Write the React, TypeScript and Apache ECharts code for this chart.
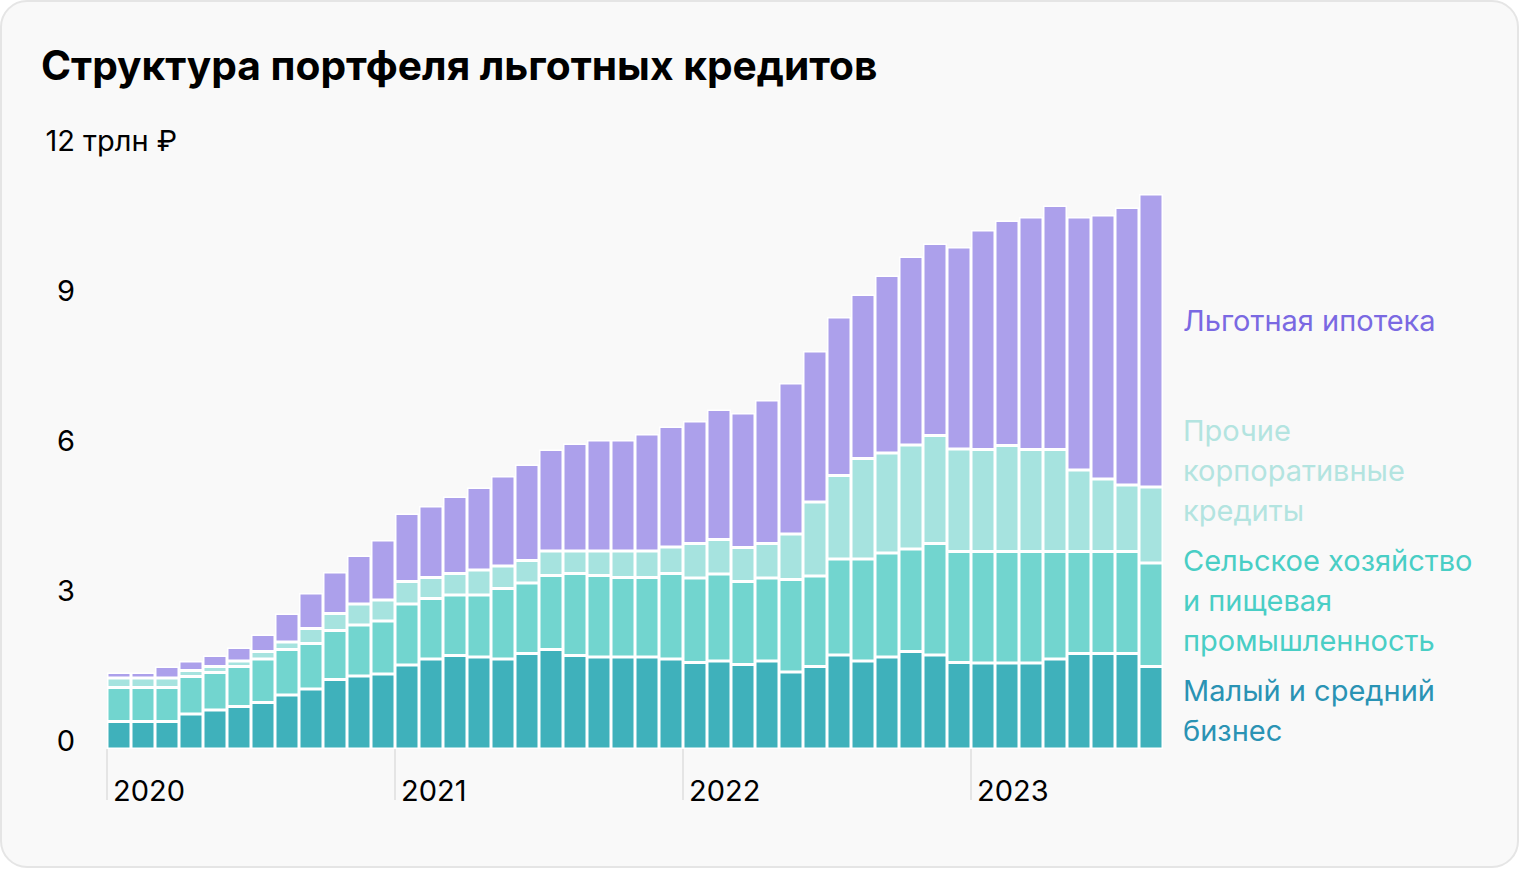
import React, { useEffect, useRef } from "react";
import * as echarts from "echarts";

const years = ["2020", "2021", "2022", "2023"];
const monthNums = ["01", "02", "03", "04", "05", "06", "07", "08", "09", "10", "11", "12"];
const months: string[] = [];
years.forEach((y) => monthNums.forEach((m) => months.push(`${y}-${m}`)));
const categories = months.slice(0, 44); // Jan 2020 – Aug 2023
// month boundaries (start of each month + end of the last one), used for the year ticks
const boundaries = [...categories, "2023-09"];

const seriesNames = [
  "Малый и средний\nбизнес",
  "Сельское хозяйство\nи пищевая\nпромышленность",
  "Прочие\nкорпоративные\nкредиты",
  "Льготная ипотека",
];

// trillion rubles, monthly
const smeValues = [
  0.55, 0.55, 0.55, 0.7, 0.78, 0.85, 0.93, 1.08, 1.2, 1.39, 1.46, 1.5,
  1.68, 1.8, 1.87, 1.84, 1.8, 1.91, 1.99, 1.87, 1.84, 1.84, 1.84, 1.8,
  1.73, 1.76, 1.69, 1.76, 1.54, 1.65, 1.88, 1.76, 1.84, 1.95, 1.88, 1.73,
  1.72, 1.72, 1.72, 1.8, 1.91, 1.91, 1.91, 1.65,
];
const agroValues = [
  0.68, 0.68, 0.68, 0.75, 0.75, 0.8, 0.87, 0.91, 0.91, 0.98, 1.02, 1.06,
  1.22, 1.21, 1.21, 1.24, 1.41, 1.41, 1.48, 1.64, 1.63, 1.59, 1.59, 1.71,
  1.69, 1.74, 1.66, 1.66, 1.85, 1.81, 1.92, 2.04, 2.08, 2.05, 2.23, 2.22,
  2.23, 2.23, 2.23, 2.15, 2.04, 2.04, 2.04, 2.07,
];
const otherCorpValues = [
  0.19, 0.19, 0.19, 0.12, 0.12, 0.11, 0.15, 0.15, 0.3, 0.34, 0.42, 0.42,
  0.45, 0.42, 0.43, 0.5, 0.45, 0.45, 0.49, 0.45, 0.49, 0.53, 0.53, 0.53,
  0.69, 0.69, 0.68, 0.69, 0.91, 1.48, 1.67, 2.01, 2.0, 2.08, 2.16, 2.05,
  2.04, 2.12, 2.04, 2.04, 1.63, 1.45, 1.33, 1.52,
];
const mortgageValues = [
  0.11, 0.11, 0.23, 0.19, 0.22, 0.27, 0.34, 0.57, 0.71, 0.83, 0.97, 1.2,
  1.36, 1.43, 1.54, 1.65, 1.8, 1.92, 2.03, 2.15, 2.22, 2.22, 2.34, 2.41,
  2.45, 2.6, 2.69, 2.87, 3.02, 3.02, 3.17, 3.28, 3.55, 3.77, 3.84, 4.04,
  4.39, 4.5, 4.65, 4.88, 5.06, 5.28, 5.55, 5.86,
];

const yTicks = [0, 3, 6, 9, 12];
const yUnit = "трлн ₽";
const title = "Структура портфеля льготных кредитов";

const barColors = ["#3fb1bb", "#72d5cf", "#a6e3df", "#aca0eb"];
const labelColors = ["#2a93b4", "#49cec5", "#b3e4e0", "#7a69e2"];
const FONT = "Inter, 'Noto Sans', sans-serif";

export default function App() {
  const ref = useRef<HTMLDivElement>(null);

  useEffect(() => {
    if (!ref.current) return;
    const chart = echarts.init(ref.current, null, { renderer: "svg" });
    const allValues = [smeValues, agroValues, otherCorpValues, mortgageValues];
    const legendTop = [670, 540, 410, 300];

    chart.setOption({
      animation: false,
      backgroundColor: "#ffffff",
      textStyle: { fontFamily: FONT },
      grid: {
        left: 107,
        right: 357,
        top: 149,
        bottom: 121,
        containLabel: false,
        outerBoundsMode: "none",
      },
      xAxis: [
        {
          type: "category",
          data: categories,
          boundaryGap: true,
          axisLine: { show: false },
          axisTick: { show: false },
          axisLabel: { show: false },
        },
        {
          type: "category",
          data: boundaries,
          boundaryGap: false,
          position: "bottom",
          axisLine: { show: false },
          axisTick: {
            show: true,
            interval: (i: number) => i % 12 === 0,
            length: 51,
            lineStyle: { color: "#dedede", width: 1.5 },
          },
          axisLabel: {
            interval: (i: number) => i % 12 === 0,
            formatter: (v: string) => v.slice(0, 4),
            align: "left",
            padding: [0, 0, 0, 6],
            margin: 27,
            fontSize: 29,
            color: "#000",
            fontFamily: FONT,
          },
        },
      ],
      yAxis: {
        type: "value",
        min: yTicks[0],
        max: yTicks[yTicks.length - 1],
        interval: 3,
        splitLine: { show: false },
        axisLine: { show: false },
        axisTick: { show: false },
        axisLabel: {
          margin: 32,
          fontSize: 29,
          color: "#000",
          fontFamily: FONT,
          verticalAlign: "bottom",
          lineHeight: 18,
          formatter: (v: number) => String(v),
        },
      },
      graphic: [
        {
          type: "rect",
          z: -100,
          silent: true,
          shape: { x: 1, y: 1, width: 1517, height: 866, r: 26 },
          style: { fill: "#f9f9f9", stroke: "#e5e5e5", lineWidth: 2 },
        },
        {
          type: "text",
          x: 41,
          y: 65,
          style: {
            text: title,
            fontFamily: FONT,
            fontSize: 40.7,
            fontWeight: 700,
            fill: "#000",
            textVerticalAlign: "middle",
          },
        },
        {
          type: "text",
          x: 83,
          y: 140,
          style: {
            text: yUnit,
            fontFamily: FONT,
            fontSize: 29,
            fill: "#000",
            textVerticalAlign: "middle",
          },
        },
        ...seriesNames.map((name, i) => ({
          type: "text",
          x: 1183,
          y: legendTop[i],
          style: {
            text: name,
            fontFamily: FONT,
            fontSize: 29,
            lineHeight: 40,
            fill: labelColors[i],
            textVerticalAlign: "top",
          },
        })),
      ],
      series: allValues.map((vals, i) => ({
        name: seriesNames[i].replace(/\n/g, " "),
        type: "bar",
        stack: "total",
        xAxisIndex: 0,
        data: vals,
        barCategoryGap: "0%",
        itemStyle: {
          color: barColors[i],
          borderColor: "#ffffff",
          borderWidth: 1.5,
        },
        emphasis: { disabled: true },
      })),
    });

    return () => chart.dispose();
  }, []);

  return (
    <div
      ref={ref}
      style={{ position: "fixed", left: 0, top: 0, width: 1520, height: 870, background: "#fff" }}
    />
  );
}
